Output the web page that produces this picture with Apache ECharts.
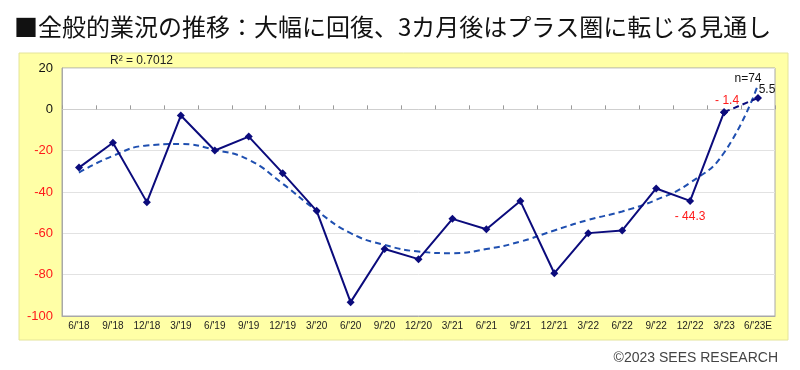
<!DOCTYPE html>
<html><head><meta charset="utf-8">
<script src="https://cdn.jsdelivr.net/npm/echarts@6/dist/echarts.min.js"></script>
<style>html,body{margin:0;padding:0;background:#fff}#c{width:800px;height:370px}</style>
</head><body><div id="c"></div>
<script>
const categories = ["6/'18","9/'18","12/'18","3/'19","6/'19","9/'19","12/'19","3/'20","6/'20","9/'20","12/'20","3/'21","6/'21","9/'21","12/'21","3/'22","6/'22","9/'22","12/'22","3/'23","6/'23E"];
const actual = [-28.2,-16.2,-44.9,-3.0,-19.9,-13.2,-30.9,-49.1,-93.3,-67.6,-72.5,-53.0,-58.0,-44.4,-79.3,-59.9,-58.6,-38.3,-44.3,-1.4,null];
const forecast = [null,null,null,null,null,null,null,null,null,null,null,null,null,null,null,null,null,null,null,-1.4,5.5];
const trend = [-30.6,-22.5,-17.5,-16.8,-19.6,-24.4,-36.0,-49.0,-59.9,-65.6,-68.8,-69.6,-67.6,-64.0,-58.6,-53.5,-49.4,-43.8,-35.5,-21.0,12.0];
const yTicks = {min:-100, max:20, interval:20};
const titleText = "■全般的業況の推移：大幅に回復、3カ月後はプラス圏に転じる見通し";
const r2Text = "R² = 0.7012";
const nText = "n=74";
const copyright = "©2023 SEES RESEARCH";

const chart = echarts.init(document.getElementById('c'), null, {renderer:'canvas'});
const NAVY = '#0b0b7c';
const RED = '#ff1a1a';

const actualData = actual.map((v,i)=>{
  if (i === 18) return {value:v, label:{show:true, position:'bottom', distance:6, color:RED, fontSize:12, formatter:'- 44.3'}};
  if (i === 19) return {value:v, label:{show:true, position:'top', distance:4, offset:[3,2], color:RED, fontSize:12, formatter:'- 1.4'}};
  return v;
});
const forecastData = forecast.map((v,i)=>{
  if (i === 20) return {value:v, label:{show:true, position:'top', distance:2, offset:[9,4], color:'#111', fontSize:12, formatter:String(v)}};
  return v;
});

const baseGraphic = [
  {type:'rect', z:-10, shape:{x:19,y:53,width:769,height:287}, style:{fill:'#ffffa6', stroke:'#e4e49a', lineWidth:1}},
  {type:'text', left:14, top:15, style:{text:titleText, font:'400 24px "Noto Sans CJK JP"', fill:'#111'}},
  {type:'text', left:110, top:55, style:{text:r2Text, font:'12px "Liberation Sans"', fill:'#222'}},
  {type:'text', right:22, top:351, style:{text:copyright, font:'14px "Liberation Sans"', fill:'#444'}}
];

chart.setOption({
  animation:false,
  backgroundColor:'#fff',
  graphic:baseGraphic,
  grid:{left:62, right:25, top:68, bottom:54, show:true, backgroundColor:'#fff', borderColor:'#a8a8a8', borderWidth:1},
  xAxis:[
    {type:'category', data:categories, boundaryGap:true,
     axisLine:{onZero:false, lineStyle:{color:'#a8a8a8'}}, axisTick:{show:false},
     axisLabel:{fontSize:10, color:'#222', margin:5, interval:0, fontFamily:'Liberation Sans'}},
    {type:'category', data:categories, boundaryGap:true, position:'bottom',
     axisLine:{show:true, onZero:true, lineStyle:{color:'#cfcfcf'}},
     axisTick:{show:true, inside:true, length:4, interval:0, lineStyle:{color:'#9a9a9a'}},
     axisLabel:{show:false}}
  ],
  yAxis:{type:'value', min:yTicks.min, max:yTicks.max, interval:yTicks.interval,
    axisLine:{show:true, lineStyle:{color:'#a8a8a8'}}, axisTick:{show:false},
    splitLine:{lineStyle:{color:'#e2e2e2'}},
    axisLabel:{fontSize:13, margin:9, fontFamily:'Liberation Sans', color:(v)=> Number(v) < 0 ? RED : '#111'}},
  series:[
    {type:'line', name:'trend', data:trend, smooth:true, symbol:'none', z:2,
     lineStyle:{color:'#1f4fb0', width:2, type:[6,4]}},
    {type:'line', name:'actual', data:actualData, symbol:'diamond', symbolSize:8, z:3,
     itemStyle:{color:NAVY}, lineStyle:{color:NAVY, width:2}},
    {type:'line', name:'forecast', data:forecastData, symbol:'diamond', symbolSize:8, z:3,
     itemStyle:{color:NAVY}, lineStyle:{color:NAVY, width:2, type:[6,4]}}
  ]
});

const pLast = chart.convertToPixel({xAxisIndex:0, yAxisIndex:0}, [20, forecast[20]]);
chart.setOption({graphic:baseGraphic.concat([
  {type:'text', z:10, x:pLast[0]-10, y:pLast[1]-19, style:{text:nText, font:'12px "Liberation Sans"', fill:'#111', align:'center', verticalAlign:'middle'}}
])});
</script></body></html>
